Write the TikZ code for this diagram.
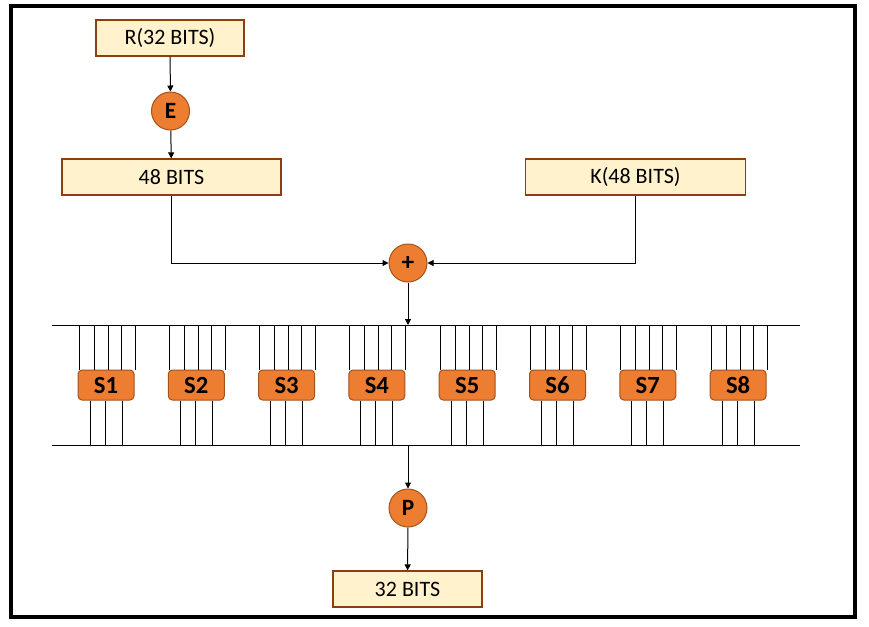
\documentclass[tikz,border=0pt]{standalone}
\usepackage{fontspec}
\setmainfont{Carlito}
\usetikzlibrary{positioning, shapes, arrows.meta, calc}

\definecolor{boxfill}{HTML}{FFF2CC}
\definecolor{boxedge}{HTML}{8B3F10}
\definecolor{opfill}{HTML}{ED7D31}
\definecolor{opedge}{HTML}{A4521C}

\begin{document}
\begin{tikzpicture}[
    x=0.75pt, y=-0.75pt, % one unit is one pixel
    >={Triangle[length=4.5pt, width=4.5pt]},
    % Styles
    bitbox/.style={ % Data blocks
        rectangle,
        draw=boxedge,
        fill=boxfill,
        line width=0.9pt,
        minimum height=27pt,
        inner sep=0pt,
        font=\fontsize{16.5}{19}\selectfont
    },
    op/.style={ % Operations E, +, P
        circle,
        draw=opedge,
        fill=opfill,
        line width=0.75pt,
        minimum size=28.5pt,
        inner sep=0pt,
        font=\bfseries\fontsize{17.5}{20}\selectfont
    },
    sbox/.style={ % Substitution boxes
        rectangle,
        rounded corners=3pt,
        draw=opedge,
        fill=opfill,
        line width=0.75pt,
        minimum width=42pt,
        minimum height=22.5pt,
        inner sep=0pt,
        font=\bfseries\fontsize{18.5}{20}\selectfont
    },
    arrow/.style={
        ->,
        line width=0.75pt
    },
    wire/.style={
        line width=0.75pt
    }
]
    \useasboundingbox (0,0) rectangle (869,626);
    \draw[line width=2.4pt] (11,6) rectangle (855,617);

    % Expansion of the right half
    \node[bitbox, minimum width=111pt] (r) at (170,38) {R(32 BITS)};
    \node[op] (e) at (170.5,111) {E};
    \node[bitbox, minimum width=164.25pt] (x48) at (171.5,177) {48 BITS};
    \node[bitbox, minimum width=165pt] (k) at (635.5,177) {K(48 BITS)};
    \node[op, font=\bfseries\fontsize{19}{20}\selectfont] (xor) at (408,263) {+};

    \draw[arrow] (r) -- (e);
    \draw[arrow] (e) -- (x48);
    \draw[arrow] (x48.south) |- (xor.west);
    \draw[arrow] (k.south) |- (xor.east);

    % Buses above and below the S-boxes
    \coordinate (tl) at (52,325);
    \coordinate (tr) at (800,325);
    \coordinate (bl) at (52,445);
    \coordinate (br) at (800,445);
    \draw[wire] (tl) -- (tr);
    \draw[wire] (bl) -- (br);
    \draw[arrow] (xor.south) -- (xor.south |- tl);

    % S-boxes with their wires
    \foreach \i in {1,...,8} {
        \node[sbox] (s\i) at ({106+90.3*(\i-1)},385) {S\i};
        \foreach \d in {-27,-12,2,15,29}
            \draw[wire] ($(s\i.north)+(\d,0)$) -- ($(s\i.north |- tl)+(\d,0)$);
        \foreach \d in {-16,-1,16}
            \draw[wire] ($(s\i.south)+(\d,0)$) -- ($(s\i.south |- bl)+(\d,0)$);
    }

    % Permutation
    \node[op] (p) at (408,508) {P};
    \node[bitbox, minimum width=111.75pt] (x32) at (407.5,589) {32 BITS};
    \draw[arrow] (p |- bl) -- (p);
    \draw[arrow] (p) -- (x32);
\end{tikzpicture}
\end{document}
